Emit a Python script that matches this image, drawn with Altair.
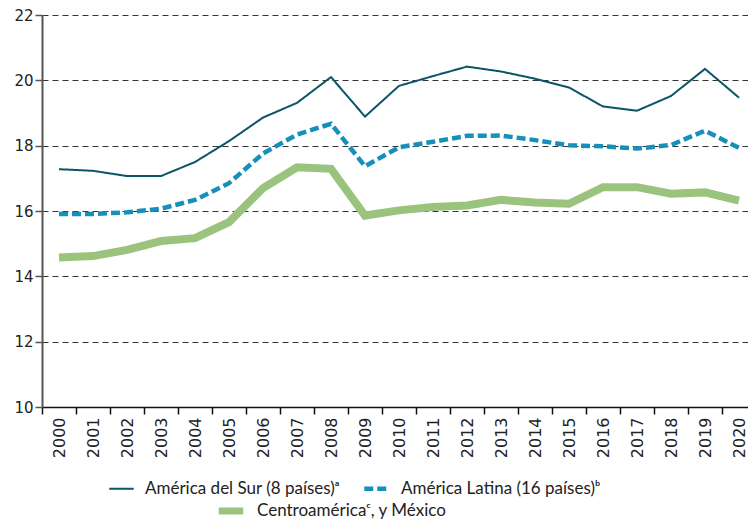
import altair as alt
import pandas as pd

years = list(range(2000, 2021))
sur = [17.28, 17.23, 17.07, 17.07, 17.50, 18.14, 18.86, 19.31, 20.10, 18.89, 19.83,
       20.13, 20.42, 20.27, 20.05, 19.78, 19.20, 19.07, 19.52, 20.35, 19.47]
latina = [15.91, 15.91, 15.96, 16.07, 16.34, 16.85, 17.76, 18.34, 18.67, 17.37, 17.95,
          18.12, 18.30, 18.31, 18.17, 18.01, 17.98, 17.91, 18.02, 18.46, 17.93]
centro = [14.58, 14.62, 14.81, 15.08, 15.17, 15.66, 16.70, 17.34, 17.29, 15.86, 16.02,
          16.12, 16.17, 16.34, 16.26, 16.22, 16.73, 16.73, 16.53, 16.57, 16.32]
names = ["América del Sur (8 países)ᵃ", "América Latina (16 países)ᵇ", "Centroaméricaᶜ, y México"]
colors = ["#0b5566", "#1690ba", "#9ac47d"]
y_ticks = [10, 12, 14, 16, 18, 20, 22]

rows_a = []
for s, vals in zip(names[:2], [sur, latina]):
    for yr, v in zip(years, vals):
        rows_a.append({"year": yr, "valor": v, "serie": s})
df_a = pd.DataFrame(rows_a)
df_b = pd.DataFrame({"year": years, "valor": centro, "serie": names[2]})

x_enc = alt.X(
    "year:O",
    scale=alt.Scale(type="band", paddingInner=0, paddingOuter=0, range=[0, 714]),
    axis=alt.Axis(
        title=None, labelAngle=-90, tickBand="extent", grid=False,
        domainColor="#111", domainWidth=1.5, tickColor="#111", tickWidth=1.5,
        tickSize=7, labelPadding=3, labelFont="DejaVu Sans", labelFontSize=16,
        labelColor="#222",
    ),
)
y_enc = alt.Y(
    "valor:Q",
    scale=alt.Scale(domain=[10, 22], nice=False, zero=False),
    axis=alt.Axis(
        title=None, values=y_ticks, grid=True, gridDash=[6, 4], gridColor="#333",
        gridWidth=1, domainColor="#555", domainWidth=2, tickColor="#555",
        tickWidth=1.5, tickSize=7, labelPadding=2, labelFont="DejaVu Sans",
        labelFontSize=15, labelColor="#222",
    ),
)

leg_common = dict(
    title=None, orient="none", direction="horizontal", padding=0,
    labelFont="Lato", labelFontSize=17, labelColor="#222", labelLimit=400,
    symbolType="stroke", symbolSize=600, labelOffset=10, columnPadding=15,
)

layer_a = alt.Chart(df_a).mark_line().encode(
    x=x_enc,
    y=y_enc,
    stroke=alt.Stroke("serie:N", scale=alt.Scale(domain=names[:2], range=colors[:2]),
                      legend=alt.Legend(legendX=66, legendY=459, **leg_common)),
    strokeDash=alt.StrokeDash("serie:N", scale=alt.Scale(domain=names[:2], range=[[1, 0], [9, 4]])),
    strokeWidth=alt.StrokeWidth("serie:N", scale=alt.Scale(domain=names[:2], range=[2, 4.5])),
)

layer_b = alt.Chart(df_b).mark_line(strokeWidth=8).encode(
    x=x_enc,
    y=y_enc,
    stroke=alt.Stroke("serie:N", scale=alt.Scale(domain=names[2:], range=colors[2:]),
                      legend=alt.Legend(legendX=173, legendY=480, symbolStrokeWidth=7, **leg_common)),
)

chart = (
    alt.layer(layer_b, layer_a)
    .resolve_scale(stroke="independent", strokeDash="independent", strokeWidth="independent")
    .resolve_legend(stroke="independent")
    .properties(
        width=706, height=392,
        autosize=alt.AutoSizeParams(type="none"),
        padding={"left": 34, "top": 7, "right": 0, "bottom": 114},
    )
    .configure_view(stroke=None)
)

chart.save("out.html", embed_options={"renderer": "svg", "actions": False})
